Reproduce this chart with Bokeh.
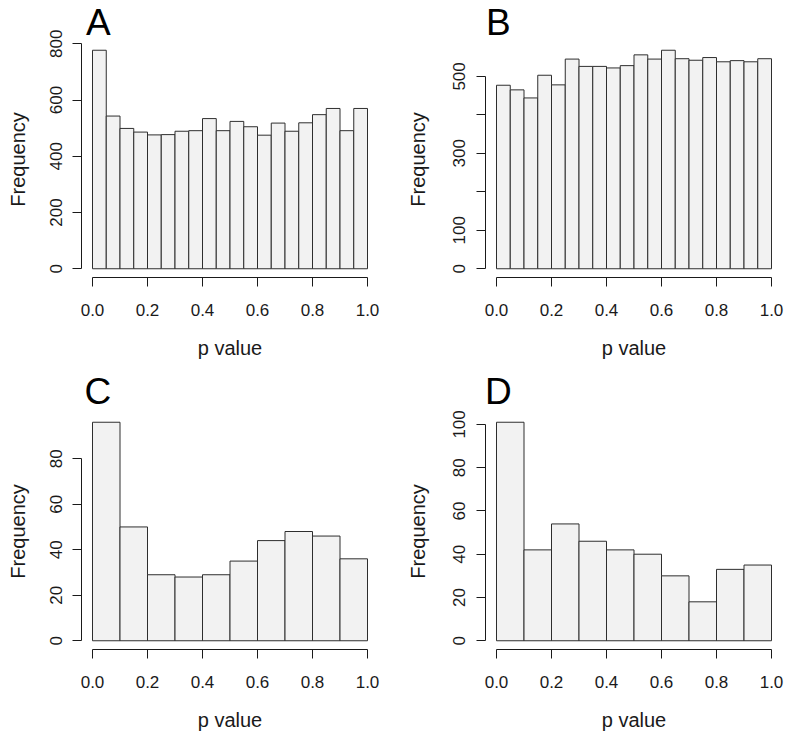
from bokeh.plotting import figure
from bokeh.layouts import gridplot
from bokeh.models import Range1d, FixedTicker, PrintfTickFormatter
from bokeh.embed import file_html
from bokeh.resources import INLINE

# ---------------- data ----------------
edges_20 = [0.00, 0.05, 0.10, 0.15, 0.20, 0.25, 0.30, 0.35, 0.40, 0.45, 0.50,
            0.55, 0.60, 0.65, 0.70, 0.75, 0.80, 0.85, 0.90, 0.95, 1.00]
edges_10 = [0.0, 0.1, 0.2, 0.3, 0.4, 0.5, 0.6, 0.7, 0.8, 0.9, 1.0]

counts_A = [777, 543, 499, 486, 476, 477, 489, 491, 534, 491,
            524, 505, 475, 518, 489, 519, 548, 570, 491, 570]
counts_B = [477, 465, 444, 503, 478, 545, 526, 526, 522, 528,
            556, 545, 568, 546, 542, 549, 538, 541, 538, 546]
counts_C = [96, 50, 29, 28, 29, 35, 44, 48, 46, 36]
counts_D = [101, 42, 54, 46, 42, 40, 30, 18, 33, 35]

x_ticks = [0.0, 0.2, 0.4, 0.6, 0.8, 1.0]
y_ticks_A = [0, 200, 400, 600, 800]
y_ticks_B = [0, 100, 200, 300, 400, 500]
y_hidden_B = [200, 400]
y_ticks_C = [0, 20, 40, 60, 80]
y_ticks_D = [0, 20, 40, 60, 80, 100]

panel_letters = ["A", "B", "C", "D"]
x_label = "p value"
y_label = "Frequency"

# ---------------- style ----------------
FONT = "Liberation Sans"
INK = "#1a1a1a"
BAR_FILL = "#f2f2f2"
BAR_LINE = "#2e2e2e"
W, H = 393, 367


def panel(letter, edges, counts, yticks, hidden, bl, bt, fw, fh,
          ldx, lsd, tick_sd, lab_sd):
    top = max(counts)
    p = figure(width=W, height=H, output_backend="svg", toolbar_location=None,
               title=letter,
               x_range=Range1d(-0.04, 1.04),
               y_range=Range1d(-0.04 * top, 1.04 * top),
               min_border_left=bl, min_border_right=W - bl - fw,
               min_border_top=bt, min_border_bottom=H - bt - fh,
               background_fill_color="white", border_fill_color="white")
    p.outline_line_color = None
    p.xgrid.visible = False
    p.ygrid.visible = False

    p.title.text_font = FONT
    p.title.text_font_size = "37px"
    p.title.text_font_style = "normal"
    p.title.text_color = "black"
    p.title.align = "left"
    p.title.offset = ldx
    p.title.standoff = lsd
    p.title.vertical_align = "bottom"

    p.quad(left=edges[:-1], right=edges[1:], bottom=0, top=counts,
           fill_color=BAR_FILL, line_color=BAR_LINE, line_width=1)

    xa = p.xaxis[0]
    xa.ticker = FixedTicker(ticks=x_ticks)
    xa.formatter = PrintfTickFormatter(format="%.1f")
    xa.bounds = (0, 1)
    ya = p.yaxis[0]
    ya.ticker = FixedTicker(ticks=yticks)
    ya.bounds = (0, yticks[-1])
    ya.major_label_orientation = "vertical"
    ya.major_label_overrides = {t: "" for t in hidden}

    for ax in (xa, ya):
        ax.axis_line_color = INK
        ax.axis_line_width = 1
        ax.major_tick_line_color = INK
        ax.major_tick_out = 9
        ax.major_tick_in = 0
        ax.minor_tick_out = 0
        ax.minor_tick_in = 0
        ax.major_label_text_font = FONT
        ax.major_label_text_font_size = "17px"
        ax.major_label_text_color = INK
        ax.axis_label_text_font = FONT
        ax.axis_label_text_font_size = "20px"
        ax.axis_label_text_font_style = "normal"
        ax.axis_label_text_color = INK
    xa.axis_label = x_label
    ya.axis_label = y_label
    xa.major_label_standoff = 17
    xa.axis_label_standoff = 18
    ya.major_label_standoff = tick_sd
    ya.axis_label_standoff = lab_sd
    return p


a = panel(panel_letters[0], edges_20, counts_A, y_ticks_A, [], 81, 41, 297, 236, 4.5, -2, 10, 19)
b = panel(panel_letters[1], edges_20, counts_B, y_ticks_B, y_hidden_B, 92, 41, 297, 236, 0.5, -2, 11, 22)
c = panel(panel_letters[2], edges_10, counts_C, y_ticks_C, [], 81, 46, 297, 236, 3, 3, 10, 19)
d = panel(panel_letters[3], edges_10, counts_D, y_ticks_D, [], 92, 46, 297, 236, -0.5, 3, 11, 22)

grid = gridplot([[a, b], [c, d]], toolbar_location=None)
open("out.html", "w").write(file_html(grid, INLINE))
